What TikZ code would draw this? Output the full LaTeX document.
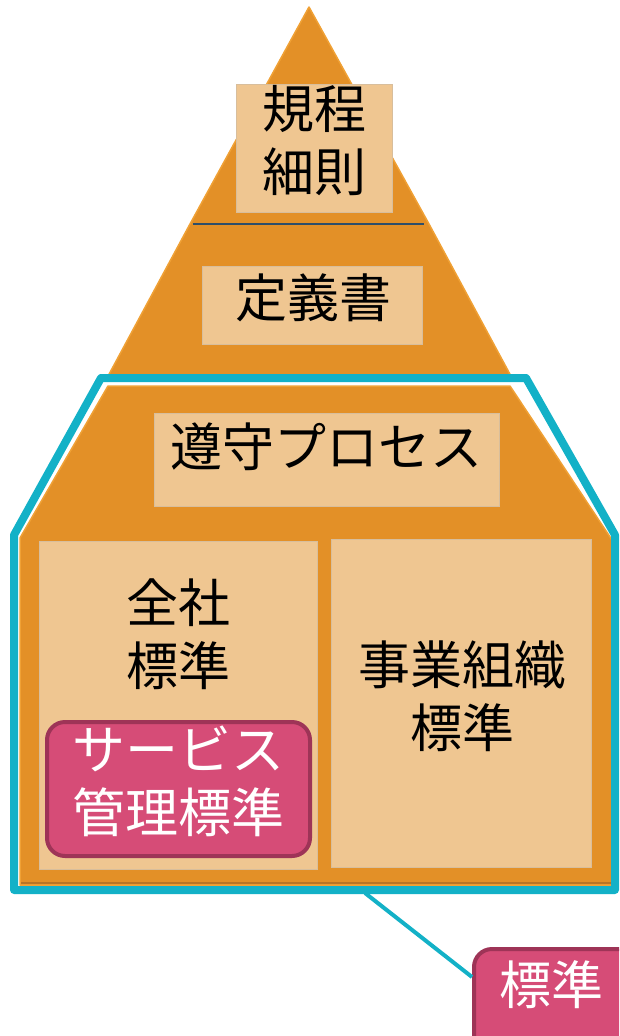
\documentclass[tikz,border=0pt]{standalone}
\usepackage{fontspec}
\newfontfamily\jp{Noto Sans CJK JP}
\definecolor{orangeMain}{HTML}{E39027}
\definecolor{orangeLight}{HTML}{F0A135}
\definecolor{orangeDark}{HTML}{B97424}
\definecolor{cyanFrame}{HTML}{13B1C7}
\definecolor{tanBox}{HTML}{EFC691}
\definecolor{tanEdge}{HTML}{D8BE9C}
\definecolor{pinkFill}{HTML}{D64C77}
\definecolor{pinkEdge}{HTML}{9E3457}
\definecolor{divider}{HTML}{2D4E6A}
\tikzset{
  piece/.style={fill=orangeMain, draw=orangeLight, line width=1.5pt, line join=round},
  tanbox/.style={draw=tanEdge, fill=tanBox, line width=0.8pt, inner sep=0pt},
  pinkbox/.style={draw=pinkEdge, fill=pinkFill, line width=4pt, rounded corners=18pt, inner sep=0pt},
  blacktext/.style={font=\jp\fontsize{52}{63}\selectfont, text=black, align=center, inner sep=0pt},
  whitetext/.style={font=\jp\fontsize{53}{63}\selectfont, text=white, align=center, inner sep=0pt},
  frame/.style={draw=cyanFrame, line width=8pt, line join=round},
  leader/.style={draw=cyanFrame, line width=4pt}
}
\begin{document}
\begin{tikzpicture}[x=1pt,y=-1pt]
\useasboundingbox (0,0) rectangle (619,1036);
\clip (0,0) rectangle (619,1036);
% pyramid pieces
\path[piece] (309,7) -- (429,224) -- (512,378) -- (107,378) -- (190,224) -- cycle;
\path[piece] (108,386) -- (510,386) -- (612,540) -- (612,885) -- (20,885) -- (20,538) -- cycle;
\draw[orangeDark, line width=2.5pt] (21,883) -- (611,883);
% divider
\draw[divider, line width=1.6pt] (193,224) -- (424,224);
% boxes
\node[tanbox, minimum width=156pt, minimum height=128pt] (bKitei) at (314,148) {};
\node[tanbox, minimum width=220pt, minimum height=78pt] (bTeigi) at (312,305) {};
\node[tanbox, minimum width=345pt, minimum height=93pt] (bJunshu) at (326.5,459.5) {};
\node[tanbox, minimum width=278pt, minimum height=328pt] (bZensha) at (178.5,705) {};
\node[tanbox, minimum width=260pt, minimum height=328pt] (bJigyo) at (461,703) {};
\node[pinkbox, minimum width=263pt, minimum height=134pt] (bService) at (178.5,789) {};
% texts
\node[blacktext] (tKitei) at (314,141) {規程\\細則};
\node[blacktext] (tTeigi) at (313,298) {定義書};
\node[blacktext] (tJunshu) at (326,447) {遵守プロセス};
\node[blacktext] (tZensha) at (178,634.5) {全社\\標準};
\node[blacktext] (tJigyo) at (462,696.5) {事業組織\\標準};
\node[whitetext] (tService) at (178,781.5) {サービス\\管理標準};
% cyan frame
\draw[frame] (101,378) -- (526,378) -- (615,535) -- (615,890) -- (14,890) -- (14,535) -- cycle;
% standard label
\node[pinkbox, minimum width=180pt, minimum height=120pt, anchor=north west] (std) at (472,947) {};
\node[whitetext, font=\jp\fontsize{52}{63}\selectfont] (tStd) at (551,985) {標準};
\coordinate (hook) at (365,893);
\draw[leader] (hook) -- ([yshift=-30pt]std.north west);
\end{tikzpicture}
\end{document}
